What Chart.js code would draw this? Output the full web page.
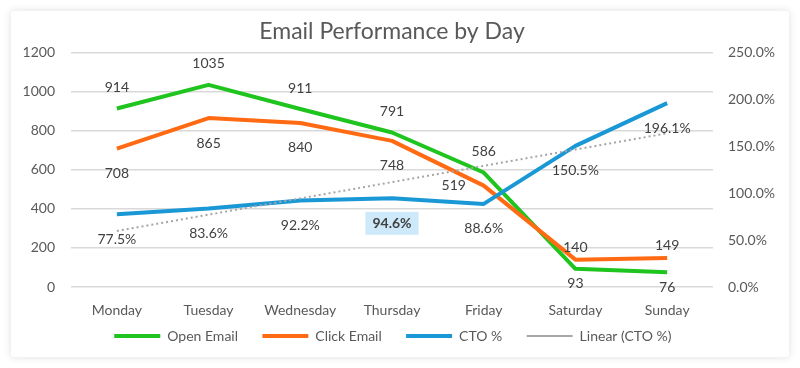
<!DOCTYPE html>
<html>
<head>
<meta charset="utf-8">
<script src="https://cdn.jsdelivr.net/npm/chart.js@4"></script>
<style>
  html, body { margin: 0; padding: 0; background: #ffffff; }
  .card {
    position: absolute; left: 11px; top: 11px;
    width: 778px; height: 346px;
    background: #fff;
    border-radius: 3px;
    box-shadow: 0 0 8px rgba(0, 0, 0, 0.13);
  }
</style>
</head>
<body>
<div class="card"><canvas id="emailChart" width="778" height="346"></canvas></div>
<script>
const days = ['Monday', 'Tuesday', 'Wednesday', 'Thursday', 'Friday', 'Saturday', 'Sunday'];
const openEmail = [914, 1035, 911, 791, 586, 93, 76];
const clickEmail = [708, 865, 840, 748, 519, 140, 149];
const ctoPct = [77.5, 83.6, 92.2, 94.6, 88.6, 150.5, 196.1];

// least squares trend of CTO %, like Excel's linear trendline
function linearTrend(ys) {
  const n = ys.length;
  const mx = (n - 1) / 2;
  const my = ys.reduce((a, b) => a + b, 0) / n;
  let sxy = 0, sxx = 0;
  ys.forEach((y, i) => { sxy += (i - mx) * (y - my); sxx += (i - mx) * (i - mx); });
  const slope = sxy / sxx;
  return ys.map((_, i) => my + slope * (i - mx));
}

// where each data label sits relative to its point
const labelOffsets = { a: [0, -21], A: [0, -12], b: [0, 25], B: [0, 15], l: [-30, 0] };
const openPlace = ['a', 'a', 'a', 'a', 'a', 'B', 'B'];
const clickPlace = ['b', 'b', 'b', 'b', 'l', 'A', 'A'];
const ctoPlace = ['b', 'b', 'b', 'b', 'b', 'b', 'b'];
const ctoHighlight = 3;

const FONT = 'Lato, "Open Sans", sans-serif';
const TXT = '#595959';

const dataLabels = {
  id: 'dataLabels',
  afterDatasetsDraw(chart) {
    const ctx = chart.ctx;
    ctx.save();
    ctx.textAlign = 'center';
    ctx.textBaseline = 'middle';
    chart.data.datasets.forEach((ds, di) => {
      if (!ds.place) return;
      const meta = chart.getDatasetMeta(di);
      meta.data.forEach((pt, i) => {
        const off = labelOffsets[ds.place[i]];
        const x = pt.x + off[0];
        const y = pt.y + off[1];
        const text = ds.fmt(ds.data[i]);
        const bold = ds.highlight === i;
        ctx.font = (bold ? 'bold ' : '') + '14px ' + FONT;
        if (bold) {
          const w = ctx.measureText(text).width + 14;
          ctx.fillStyle = '#cde9fa';
          ctx.fillRect(x - w / 2, y - 11.5, w, 23);
        }
        ctx.fillStyle = '#404040';
        ctx.fillText(text, x, y);
      });
    });
    ctx.restore();
  }
};

new Chart(document.getElementById('emailChart'), {
  type: 'line',
  data: {
    labels: days,
    datasets: [
      {
        label: 'Open Email', data: openEmail, yAxisID: 'y', order: 4,
        borderColor: '#20c41e', borderWidth: 4, pointRadius: 0,
        place: openPlace, fmt: v => String(v)
      },
      {
        label: 'Click Email', data: clickEmail, yAxisID: 'y', order: 3,
        borderColor: '#ff6a13', borderWidth: 4, pointRadius: 0,
        place: clickPlace, fmt: v => String(v)
      },
      {
        label: 'CTO %', data: ctoPct, yAxisID: 'y1', order: 2,
        borderColor: '#1a98d5', borderWidth: 4, pointRadius: 0,
        place: ctoPlace, highlight: ctoHighlight, fmt: v => v.toFixed(1) + '%'
      },
      {
        label: 'Linear (CTO %)', data: linearTrend(ctoPct), yAxisID: 'y1', order: 1,
        borderColor: '#a6a6a6', borderWidth: 2, borderDash: [2, 3], pointRadius: 0
      }
    ]
  },
  options: {
    responsive: false,
    animation: false,
    events: [],
    layout: { padding: { left: 0, right: 0, top: 0, bottom: 4 } },
    elements: { line: { tension: 0, borderJoinStyle: 'round' } },
    plugins: {
      title: {
        display: true,
        fullSize: false,
        text: 'Email Performance by Day',
        color: TXT,
        font: { family: FONT, size: 23, weight: 'normal' },
        padding: { top: 7, bottom: 7 }
      },
      legend: {
        position: 'bottom',
        labels: {
          usePointStyle: true,
          pointStyle: 'line',
          pointStyleWidth: 46,
          boxHeight: 4,
          padding: 10,
          color: TXT,
          font: { family: FONT, size: 14 },
          sort: (a, b) => a.datasetIndex - b.datasetIndex,
          generateLabels: chart => Chart.defaults.plugins.legend.labels.generateLabels(chart)
            .map(item => Object.assign(item, { text: item.text + '    ' }))
        }
      },
      tooltip: { enabled: false }
    },
    scales: {
      x: {
        offset: true,
        grid: { display: false, drawTicks: false },
        border: { display: false },
        ticks: { color: TXT, font: { family: FONT, size: 14 }, padding: 15, maxRotation: 0 },
        afterFit: s => { s.height = 32; }
      },
      y: {
        position: 'left',
        min: 0, max: 1200,
        grid: { color: '#d9d9d9', lineWidth: 1.5, drawTicks: false },
        border: { display: false },
        ticks: { stepSize: 200, color: TXT, font: { family: FONT, size: 14 }, padding: 16,
                 callback: v => String(v) },
        afterFit: s => { s.width = 60; }
      },
      y1: {
        position: 'right',
        min: 0, max: 250,
        grid: { display: false, drawTicks: false },
        border: { display: false },
        ticks: { stepSize: 50, color: TXT, font: { family: FONT, size: 14 }, padding: 15,
                 callback: v => v.toFixed(1) + '%' },
        afterFit: s => { s.width = 76; }
      }
    }
  },
  plugins: [dataLabels]
});
</script>
</body>
</html>
